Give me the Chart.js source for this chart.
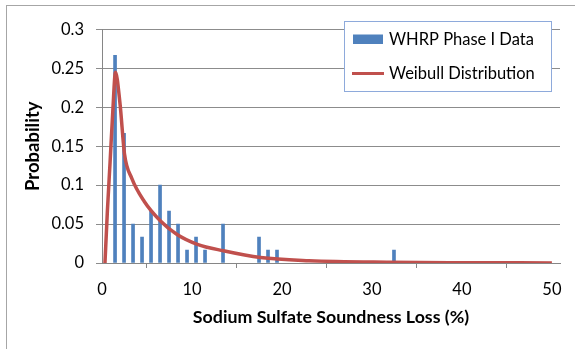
<!DOCTYPE html>
<html>
<head>
<meta charset="utf-8">
<script src="https://cdn.jsdelivr.net/npm/chart.js@4"></script>
<style>
  html, body { margin: 0; padding: 0; background: #fff; }
  #wrap { width: 575px; height: 349px; position: relative; }
</style>
</head>
<body>
<div id="wrap"><canvas id="grafico" width="575" height="349"></canvas></div>
<script>
// dados
var binCenters = [1.45, 2.45, 3.45, 4.45, 5.45, 6.45, 7.45, 8.45, 9.45, 10.45, 11.45, 13.45, 17.45, 18.45, 19.45, 32.45];
var probabilidades = [0.2667, 0.1667, 0.05, 0.0333, 0.0667, 0.1, 0.0667, 0.05, 0.0167, 0.0333, 0.0167, 0.05, 0.0333, 0.0167, 0.0167, 0.0167];

var weibullX = [0.33, 0.6, 0.9, 1.2, 1.5, 2.0, 2.5, 3.3, 4.7, 6.5, 8.3, 10.6, 13.5, 17.6, 23, 32, 40, 50];
var weibullY = [0, 0.067, 0.13, 0.195, 0.245, 0.205, 0.14, 0.109, 0.079, 0.054, 0.037, 0.024, 0.0157, 0.007, 0.003, 0.001, 0.0004, 0.0001];

var xTicks = [0, 10, 20, 30, 40, 50];
var yTicks = [0, 0.05, 0.1, 0.15, 0.2, 0.25, 0.3];
var yTickLabels = ['0', '0.05', '0.1', '0.15', '0.2', '0.25', '0.3'];

var serieBarras = 'WHRP Phase I Data';
var serieCurva = 'Weibull Distribution';
var tituloX = 'Sodium Sulfate Soundness Loss (%)';
var tituloY = 'Probability';

var azul = '#4f81bd';
var vermelho = '#c0504d';
var fonte = 'Lato, "Liberation Sans", sans-serif';

var pontosBarras = binCenters.map(function (x, i) { return { x: x, y: probabilidades[i] }; });
var pontosCurva = weibullX.map(function (x, i) { return { x: x, y: weibullY[i] }; });

// moldura externa e legenda
var moldura = {
    id: 'moldura',
    beforeDraw: function (chart) {
        var c = chart.ctx;
        c.save();
        c.fillStyle = '#fff';
        c.fillRect(0, 0, chart.width, chart.height);
        c.strokeStyle = '#a6a6a6';
        c.lineWidth = 1;
        c.strokeRect(6.5, 5.5, 700, 500);
        c.restore();
    },
    afterDraw: function (chart) {
        var c = chart.ctx;
        c.save();
        c.fillStyle = '#fff';
        c.fillRect(344.5, 21.5, 207, 70);
        c.strokeStyle = '#8eaadb';
        c.lineWidth = 1;
        c.strokeRect(344.5, 21.5, 207, 70);
        c.fillStyle = azul;
        c.fillRect(353, 34.5, 30, 9.5);
        c.strokeStyle = vermelho;
        c.lineWidth = 3;
        c.beginPath();
        c.moveTo(352, 73.5);
        c.lineTo(384, 73.5);
        c.stroke();
        c.fillStyle = '#000';
        c.font = '16.5px ' + fonte;
        c.textBaseline = 'middle';
        c.fillText(serieBarras, 389, 39.5);
        c.fillText(serieCurva, 389, 73.5);
        c.restore();
    }
};

var ctx = document.getElementById('grafico').getContext('2d');
var grafico = new Chart(ctx, {
    type: 'bar',
    data: {
        datasets: [{
            type: 'line',
            label: serieCurva,
            data: pontosCurva,
            borderColor: vermelho,
            borderWidth: 3.5,
            pointRadius: 0,
            cubicInterpolationMode: 'monotone',
            fill: false,
            order: 0
        }, {
            type: 'bar',
            label: serieBarras,
            data: pontosBarras,
            backgroundColor: azul,
            barThickness: 3,
            order: 1
        }]
    },
    options: {
        responsive: false,
        animation: false,
        events: [],
        layout: { padding: { left: 20, right: 15, top: 29.5, bottom: 21 } },
        plugins: {
            legend: { display: false },
            tooltip: { enabled: false }
        },
        scales: {
            x: {
                type: 'linear',
                min: 0,
                max: 50.9,
                offset: false,
                afterBuildTicks: function (axis) {
                    axis.ticks = xTicks.map(function (v) { return { value: v }; });
                },
                afterFit: function (axis) { axis.height = 65; },
                grid: { drawOnChartArea: false, drawTicks: true, tickLength: 5, color: '#868686' },
                border: { color: '#868686' },
                ticks: { color: '#000', font: { family: fonte, size: 16.5 }, padding: 12, maxRotation: 0 },
                title: {
                    display: true,
                    text: tituloX,
                    color: '#000',
                    font: { family: fonte, size: 17.8, weight: 'bold' },
                    padding: { top: 0, bottom: 0 }
                }
            },
            y: {
                min: 0,
                max: 0.3,
                afterBuildTicks: function (axis) {
                    axis.ticks = yTicks.map(function (v) { return { value: v }; });
                },
                afterFit: function (axis) { axis.width = 82; },
                grid: { color: '#8c8c8c', tickLength: 6 },
                border: { color: '#868686' },
                ticks: {
                    color: '#000',
                    font: { family: fonte, size: 16.5 },
                    padding: 12,
                    callback: function (v) {
                        var i = yTicks.indexOf(v);
                        return i >= 0 ? yTickLabels[i] : '';
                    }
                },
                title: {
                    display: true,
                    text: tituloY,
                    color: '#000',
                    font: { family: fonte, size: 18.5, weight: 'bold' },
                    padding: { top: 2, bottom: 0 }
                }
            }
        }
    },
    plugins: [moldura]
});
</script>
</body>
</html>
